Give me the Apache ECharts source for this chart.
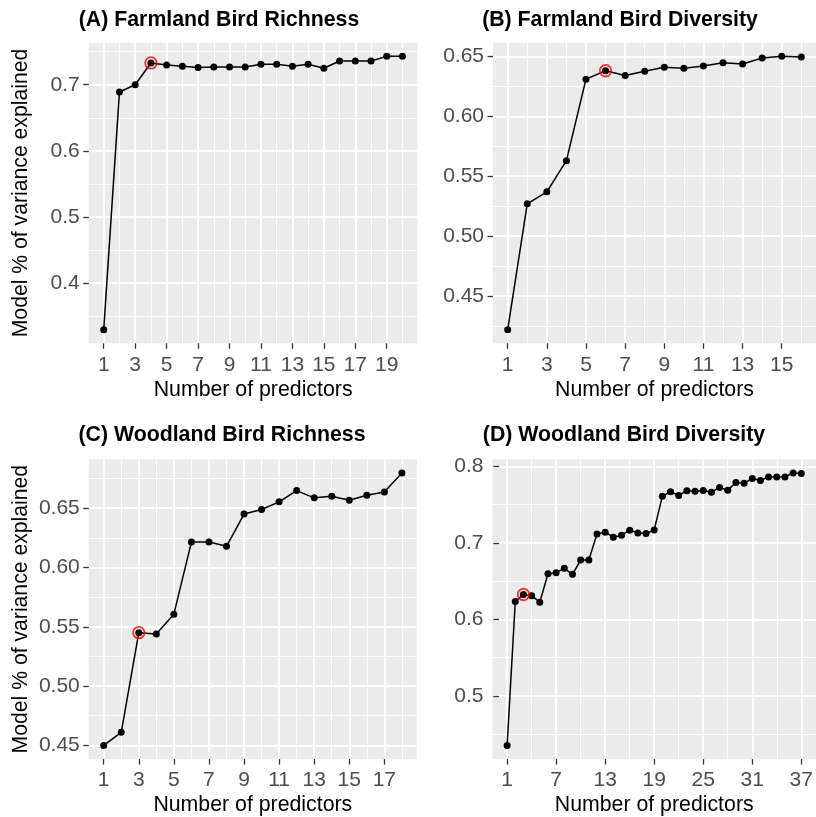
<!DOCTYPE html>
<html>
<head>
<meta charset="utf-8">
<script src="https://cdn.jsdelivr.net/npm/echarts@6/dist/echarts.min.js"></script>
<style>
html,body{margin:0;padding:0;background:#fff;}
#chart{width:816px;height:817px;}
</style>
</head>
<body>
<div id="chart"></div>
<script>
// ---- Data ----
const titles = ['(A) Farmland Bird Richness', '(B) Farmland Bird Diversity', '(C) Woodland Bird Richness', '(D) Woodland Bird Diversity'];
const xAxisTitle = 'Number of predictors';
const yAxisTitle = 'Model % of variance explained';

const farmRichness = [0.329, 0.689, 0.700, 0.733, 0.730, 0.728, 0.726, 0.727, 0.727, 0.727, 0.731, 0.731, 0.728, 0.731, 0.725, 0.736, 0.736, 0.736, 0.743, 0.743];
const farmDiversity = [0.422, 0.527, 0.537, 0.563, 0.631, 0.638, 0.634, 0.6375, 0.641, 0.640, 0.642, 0.6447, 0.6436, 0.6486, 0.650, 0.6494];
const woodRichness = [0.450, 0.461, 0.545, 0.544, 0.5606, 0.6214, 0.6214, 0.6178, 0.645, 0.6489, 0.6553, 0.6648, 0.6587, 0.660, 0.6567, 0.6609, 0.6637, 0.6797];
const woodDiversity = [0.4355, 0.6234, 0.6325, 0.631, 0.6225, 0.6597, 0.661, 0.6667, 0.6589, 0.6775, 0.6775, 0.7117, 0.7139, 0.7074, 0.710, 0.7165, 0.713, 0.7121, 0.7169, 0.761, 0.7667, 0.7619, 0.768, 0.7675, 0.7684, 0.7662, 0.7723, 0.7688, 0.7788, 0.7779, 0.784, 0.7814, 0.7861, 0.7861, 0.7861, 0.7913, 0.7905];

// chosen model (number of predictors) marked with the red circle
const selectedPredictors = [4, 6, 3, 3];

// tick labels (major) and minor grid breaks
const xMajorA = [1, 3, 5, 7, 9, 11, 13, 15, 17, 19];
const xMinorA = [2, 4, 6, 8, 10, 12, 14, 16, 18, 20];
const xMajorB = [1, 3, 5, 7, 9, 11, 13, 15];
const xMinorB = [2, 4, 6, 8, 10, 12, 14, 16];
const xMajorC = [1, 3, 5, 7, 9, 11, 13, 15, 17];
const xMinorC = [2, 4, 6, 8, 10, 12, 14, 16, 18];
const xMajorD = [1, 7, 13, 19, 25, 31, 37];
const xMinorD = [4, 10, 16, 22, 28, 34];

const yMajorA = [0.4, 0.5, 0.6, 0.7];
const yMinorA = [0.35, 0.45, 0.55, 0.65, 0.75];
const yMajorB = [0.45, 0.50, 0.55, 0.60, 0.65];
const yMinorB = [0.425, 0.475, 0.525, 0.575, 0.625];
const yMajorC = [0.45, 0.50, 0.55, 0.60, 0.65];
const yMinorC = [0.475, 0.525, 0.575, 0.625, 0.675];
const yMajorD = [0.5, 0.6, 0.7, 0.8];
const yMinorD = [0.45, 0.55, 0.65, 0.75];

// ---- Build chart ----
const FONT = '"Liberation Sans", Arial, Helvetica, sans-serif';
const panels = [
  {values: farmRichness, xMaj: xMajorA, xMin: xMinorA, yMaj: yMajorA, yMin: yMinorA, dec: 1, yTitle: true,
   grid: {left: 88.8, top: 42.7, width: 328.6, height: 300.6}, titleX: 219, titleY: 20.5},
  {values: farmDiversity, xMaj: xMajorB, xMin: xMinorB, yMaj: yMajorB, yMin: yMinorB, dec: 2, yTitle: false,
   grid: {left: 493, top: 42.7, width: 328.8, height: 300.6}, titleX: 620, titleY: 20.5},
  {values: woodRichness, xMaj: xMajorC, xMin: xMinorC, yMaj: yMajorC, yMin: yMinorC, dec: 2, yTitle: true,
   grid: {left: 88.8, top: 459.3, width: 328.0, height: 300.7}, titleX: 222, titleY: 435},
  {values: woodDiversity, xMaj: xMajorD, xMin: xMinorD, yMaj: yMajorD, yMin: yMinorD, dec: 1, yTitle: false,
   grid: {left: 492.4, top: 459.3, width: 328.9, height: 300.7}, titleX: 624, titleY: 435}
];

const grids = [], xAxes = [], yAxes = [], series = [], graphics = [];

panels.forEach((p, i) => {
  const n = p.values.length;
  const xSpan = n - 1;
  const xMin = 1 - 0.05 * xSpan, xMax = n + 0.05 * xSpan;
  const vMin = Math.min.apply(null, p.values), vMax = Math.max.apply(null, p.values);
  const ySpan = vMax - vMin;
  const yMin = vMin - 0.05 * ySpan, yMax = vMax + 0.05 * ySpan;

  grids.push(Object.assign({show: true, backgroundColor: '#EBEBEB', borderWidth: 0, containLabel: false}, p.grid));

  const xMainIdx = xAxes.length;
  xAxes.push({
    type: 'value', gridIndex: i, min: xMin, max: xMax,
    axisLine: {show: false},
    axisTick: {show: true, length: 5.5, customValues: p.xMaj, lineStyle: {color: '#333333', width: 1.3}},
    axisLabel: {show: true, customValues: p.xMaj, margin: 11, color: '#4D4D4D', fontSize: 21, fontFamily: FONT},
    splitLine: {show: true, lineStyle: {color: '#FFFFFF', width: 2}},
    name: xAxisTitle, nameLocation: 'middle', nameGap: 36,
    nameTextStyle: {color: '#000000', fontSize: 21.3, fontFamily: FONT}
  });
  xAxes.push({
    type: 'value', gridIndex: i, min: xMin, max: xMax,
    axisLine: {show: false},
    axisTick: {show: false, customValues: p.xMin},
    axisLabel: {show: false, customValues: p.xMin},
    splitLine: {show: true, lineStyle: {color: '#FFFFFF', width: 1}}
  });

  const yMainIdx = yAxes.length;
  yAxes.push({
    type: 'value', gridIndex: i, min: yMin, max: yMax,
    axisLine: {show: false},
    axisTick: {show: true, length: 5.5, customValues: p.yMaj, lineStyle: {color: '#333333', width: 1.3}},
    axisLabel: {show: true, customValues: p.yMaj, margin: 9, color: '#4D4D4D', fontSize: 21, fontFamily: FONT,
      formatter: v => Number(v).toFixed(p.dec)},
    splitLine: {show: true, lineStyle: {color: '#FFFFFF', width: 2}},
    name: p.yTitle ? yAxisTitle : '', nameLocation: 'middle', nameGap: 57, nameRotate: 90,
    nameTextStyle: {color: '#000000', fontSize: 21.2, fontFamily: FONT}
  });
  yAxes.push({
    type: 'value', gridIndex: i, min: yMin, max: yMax,
    axisLine: {show: false},
    axisTick: {show: false, customValues: p.yMin},
    axisLabel: {show: false, customValues: p.yMin},
    splitLine: {show: true, lineStyle: {color: '#FFFFFF', width: 1}}
  });

  const data = p.values.map((v, k) => [k + 1, v]);
  series.push({
    type: 'line', xAxisIndex: xMainIdx, yAxisIndex: yMainIdx, data: data,
    symbol: 'circle', symbolSize: 7, showSymbol: true,
    lineStyle: {color: '#000000', width: 1.5},
    itemStyle: {color: '#000000'},
    emphasis: {disabled: true}, animation: false, z: 3
  });
  const s = selectedPredictors[i];
  series.push({
    type: 'scatter', xAxisIndex: xMainIdx, yAxisIndex: yMainIdx,
    data: [[s, p.values[s - 1]]],
    symbol: 'circle', symbolSize: 11.5,
    itemStyle: {color: 'rgba(0,0,0,0)', borderColor: '#FF0000', borderWidth: 1.8},
    emphasis: {disabled: true}, animation: false, z: 4
  });

  graphics.push({
    type: 'text', x: p.titleX, y: p.titleY, z: 10,
    style: {text: titles[i], fill: '#000000', fontSize: 21.3, fontWeight: 'bold', fontFamily: FONT,
      align: 'center', verticalAlign: 'middle'}
  });
});

const chart = echarts.init(document.getElementById('chart'), null, {renderer: 'canvas'});
chart.setOption({
  backgroundColor: '#FFFFFF',
  animation: false,
  grid: grids,
  xAxis: xAxes,
  yAxis: yAxes,
  series: series,
  graphic: graphics
});
</script>
</body>
</html>
